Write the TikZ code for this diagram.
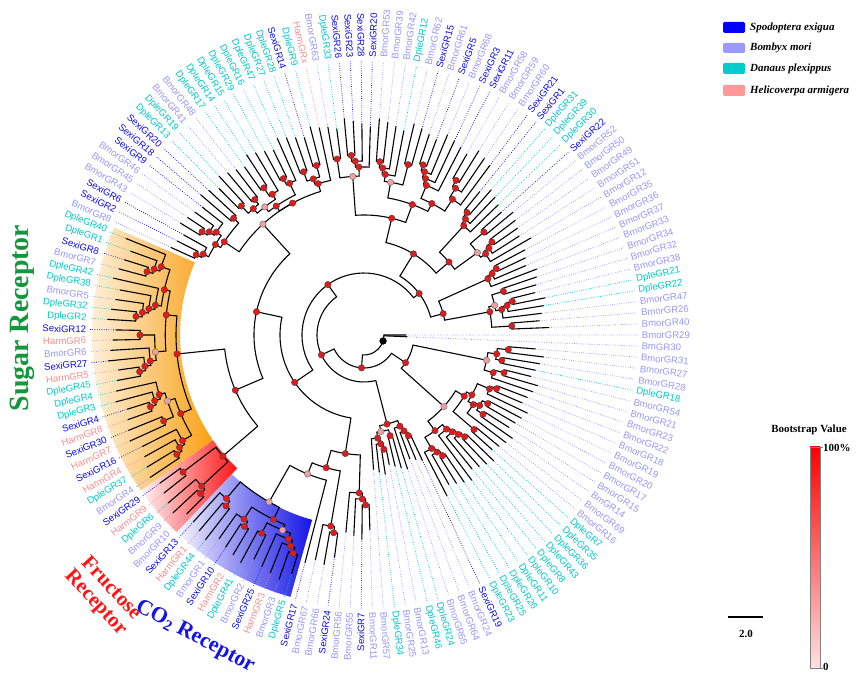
\documentclass[tikz,border=0pt]{standalone}
\usepackage{fontspec}
\setmainfont{Liberation Serif}
\newfontfamily\lsf{Liberation Sans}
\pgfdeclarelayer{fg}
\pgfsetlayers{main,fg}
\definecolor{spS}{RGB}{10,10,230}
\definecolor{spB}{RGB}{150,150,250}
\definecolor{spD}{RGB}{0,200,200}
\definecolor{spH}{RGB}{250,140,140}
\definecolor{lgS}{RGB}{0,0,255}
\definecolor{lgB}{RGB}{153,153,255}
\definecolor{lgD}{RGB}{0,204,204}
\definecolor{lgH}{RGB}{255,153,153}
\definecolor{sugarg}{RGB}{20,150,60}
\definecolor{fruc}{RGB}{255,20,20}
\definecolor{coblue}{RGB}{20,20,230}
\definecolor{orng}{RGB}{250,160,20}
\definecolor{dred}{RGB}{230,25,25}
\definecolor{dpink}{RGB}{240,160,160}
\tikzset{
  br/.style={line width=1.1, black, line cap=round},
  dl/.style={line width=0.8, dash pattern=on 0.7 off 1.6},
  dotred/.style={fill=dred, draw=black!75, line width=0.4},
  dotpink/.style={fill=dpink, draw=black!60, line width=0.4},
  lbl/.style={font=\lsf\fontsize{9.6}{10}\selectfont, inner sep=0.3pt},
  lgt/.style={font=\bfseries\itshape\fontsize{11}{13}\selectfont, inner sep=1pt},
  bst/.style={font=\bfseries\fontsize{11}{13}\selectfont, inner sep=1pt},
  ttl/.style={font=\bfseries\fontsize{#1}{#1}\selectfont, align=center, inner sep=1pt},
}
% node with explicit positions (index units): pA, pB, pM, radius, parent radius
\newcommand\ndx[5]{%
  \pgfmathsetmacro\ma{134.7-2.32258*(#3)}%
  \pgfmathsetmacro\mA{134.7-2.32258*(#1)}%
  \pgfmathsetmacro\mB{134.7-2.32258*(#2)}%
  \draw[br] (\ma:#5) -- (\ma:#4);
  \draw[br] (\mA:#4) arc[start angle=\mA, end angle=\mB, radius=#4];
  \pgfmathtruncatemacro\pk{mod(round(#1*7+#2*11),6)==0}%
  \begin{pgfonlayer}{fg}
    \ifnum\pk=1 \filldraw[dotpink] (\ma:#4) circle[radius=3.2];\else\filldraw[dotred] (\ma:#4) circle[radius=3.2];\fi
  \end{pgfonlayer}%
}
% internal node on a leaf range: a, split s, b, radius r, parent radius rp
\newcommand\nd[5]{%
  \pgfmathsetmacro\pM{(#1+#3)/2}%
  \pgfmathsetmacro\pA{(#1+#2)/2}%
  \pgfmathsetmacro\pB{(#2+1+#3)/2}%
  \ndx{\pA}{\pB}{\pM}{#4}{#5}%
}
% recursive subtree: a, b, node radius, parent radius, tip radius
\newcommand\sub[5]{%
 \begingroup
 \ifnum#1=#2\relax
   \pgfmathsetmacro\la{134.7-2.32258*#1}%
   \pgfmathsetmacro\lt{#5+3*mod(#1*7,4)}%
   \edef\lc{sp\csname lc#1\endcsname}%
   \draw[br] (\la:#4) -- (\la:\lt);
   \draw[dl,\lc] (\la:\lt) -- (\la:274);
 \else
   \pgfmathtruncatemacro\hh{mod(#1*31+#2*17,5)}%
   \pgfmathtruncatemacro\sSplit{#1+floor((#2-#1)*(0.25+0.125*\hh)+0.5)}%
   \ifnum\sSplit<#1\relax\edef\sSplit{#1}\fi
   \ifnum\sSplit>\numexpr#2-1\relax\edef\sSplit{\the\numexpr#2-1\relax}\fi
   \nd{#1}{\sSplit}{#2}{#3}{#4}%
   \edef\sB{\the\numexpr\sSplit+1\relax}%
   \pgfmathsetmacro\rA{max(#5-16-\kk*ln(\sSplit-#1+1)/ln(2)-2*mod(#1*3,4),#3+6)}%
   \pgfmathsetmacro\rB{max(#5-16-\kk*ln(#2-\sSplit)/ln(2)-2*mod(#2*5,4),#3+6)}%
   \edef\mynext{\noexpand\sub{#1}{\sSplit}{\rA}{#3}{#5}\noexpand\sub{\sB}{#2}{\rB}{#3}{#5}}%
   \mynext
 \fi
 \endgroup}
\def\kk{13}
\begin{document}
\begin{tikzpicture}[x=1bp,y=1bp]
\useasboundingbox (-364,-346) rectangle (492,335);
% clade wedges
\pgfmathsetmacro\wgA{134.7-2.32258*103.5}
\pgfmathsetmacro\wgB{134.7-2.32258*115.5}
\pgfmathsetmacro\wgC{134.7-2.32258*120.5}
\pgfmathsetmacro\wgD{134.7-2.32258*145.5}
\shade[left color=coblue!3, right color=coblue] (\wgA:192) arc[start angle=\wgA,end angle=\wgB,radius=192] -- (\wgB:272) arc[start angle=\wgB,end angle=\wgA,radius=272] -- cycle;
\shade[left color=fruc!4, right color=fruc] (\wgB:184) arc[start angle=\wgB,end angle=\wgC,radius=184] -- (\wgC:272) arc[start angle=\wgC,end angle=\wgB,radius=272] -- cycle;
\shade[left color=orng!6, right color=orng] (\wgC:184) arc[start angle=\wgC,end angle=\wgD,radius=184] -- (\wgD:272) arc[start angle=\wgD,end angle=\wgC,radius=272] -- cycle;
% leaf labels
\foreach [count=\n from 0] \nm/\cc in {DpleGR13/D,DpleGR19/D,BmorGR41/B,BmorGR48/B,DpleGR17/D,DpleGR14/D,DpleGR15/D,DpleGR29/D,DpleGR16/D,DpleGR47/D,DpleGR27/D,DpleGR28/D,SexiGR14/S,DpleGR9/D,HarmGRx/H,BmorGR63/B,DpleGR33/D,SexiGR26/S,SexiGR23/S,SexiGR28/S,SexiGR20/S,BmorGR53/B,BmorGR39/B,BmorGR42/B,DpleGR12/D,BmorGR62/B,SexiGR15/S,BmorGR61/B,SexiGR5/S,BmorGR68/B,SexiGR3/S,SexiGR11/S,BmorGR58/B,BmorGR59/B,BmorGR60/B,SexiGR21/S,SexiGR1/S,DpleGR31/D,DpleGR39/D,DpleGR30/D,SexiGR22/S,BmorGR52/B,BmorGR50/B,BmorGR49/B,BmorGR51/B,BmorGR12/B,BmorGR35/B,BmorGR36/B,BmorGR37/B,BmorGR33/B,BmorGR34/B,BmorGR32/B,BmorGR38/B,DpleGR21/D,DpleGR22/D,BmorGR47/B,BmorGR26/B,BmorGR40/B,BmorGR29/B,BmGR30/B,BmorGR31/B,BmorGR27/B,BmorGR28/B,DpleGR18/D,BmorGR54/B,BmorGR21/B,BmorGR23/B,BmorGR22/B,BmorGR18/B,BmorGR19/B,BmorGR20/B,BmorGR17/B,BmorGR15/B,BmGR14/B,BmorGR69/B,BmorGR16/B,DpleGR7/D,DpleGR35/D,DpleGR36/D,DpleGR43/D,DpleGR8/D,DpleGR10/D,DpleGR11/D,DpleGR26/D,DpleGR25/D,DpleGR23/D,SexiGR19/S,BmorGR24/B,BmorGR64/B,BmorGR65/B,DpleGR24/D,DpleGR46/D,BmorGR13/B,BmorGR25/B,DpleGR34/D,BmorGR57/B,BmorGR11/B,SexiGR7/S,BmorGR55/B,BmorGR56/B,SexiGR24/S,BmorGR66/B,BmorGR67/B,SexiGR17/S,DpleGR5/D,BmorGR3/B,HarmGR3/H,SexiGR25/S,BmorGR2/B,DpleGR41/D,HarmGR2/H,SexiGR10/S,BmorGR1/B,DpleGR44/D,HarmGR1/H,SexiGR13/S,BmorGR10/B,BmorGR9/B,DpleGR6/D,HarmGR9/H,SexiGR29/S,BmorGR4/B,DpleGR37/D,HarmGR4/H,SexiGR16/S,HarmGR7/H,SexiGR30/S,HarmGR8/H,SexiGR4/S,DpleGR3/D,DpleGR4/D,DpleGR45/D,HarmGR5/H,SexiGR27/S,BmorGR6/B,HarmGR6/H,SexiGR12/S,DpleGR2/D,DpleGR32/D,BmorGR5/B,DpleGR38/D,DpleGR42/D,BmorGR7/B,SexiGR8/S,DpleGR1/D,DpleGR40/D,BmorGR8/B,SexiGR2/S,SexiGR6/S,BmorGR43/B,BmorGR45/B,BmorGR46/B,SexiGR9/S,SexiGR18/S,SexiGR20/S}{
  \expandafter\xdef\csname lc\n\endcsname{\cc}
  \pgfmathsetmacro\la{134.7-2.32258*\n}
  \pgfmathtruncatemacro\rt{cos(\la)>-0.00001}
  \ifnum\rt=1
    \node[lbl,text=sp\cc,anchor=west,rotate=\la] (L\n) at (\la:277.5) {\nm};
  \else
    \pgfmathsetmacro\lb{\la+180}
    \node[lbl,text=sp\cc,anchor=east,rotate=\lb] (L\n) at (\la:277.5) {\nm};
  \fi
}
% ---- tree: clade subtrees ----
\def\kk{11}\sub{96}{99}{158}{120}{195}
\def\kk{10}\sub{100}{102}{194}{138}{224}
\sub{103}{103}{0}{150}{232}
\def\kk{9}\sub{104}{115}{192}{150}{250}
\def\kk{9}\sub{116}{120}{186}{140}{252}
\def\kk{8}\sub{121}{145}{188}{140}{248}
\def\kk{11}\sub{146}{154}{168}{150}{206}
\def\kk{12}\sub{0}{14}{150}{150}{206}
\def\kk{12}\sub{15}{35}{120}{95}{208}
\def\kk{10}\sub{36}{45}{112}{95}{184}
\def\kk{10}\sub{46}{57}{82}{69}{176}
\def\kk{11}\sub{60}{85}{50}{33}{172}
\def\kk{10}\sub{86}{95}{92}{47}{132}
% ---- tree: backbone ladder (positions in index units, wrapped past 154) ----
\ndx{118}{133}{125.5}{140}{110}      % sugar + fructose
\ndx{103}{109.5}{106.25}{150}{138}   % SexiGR17 + CO2
\ndx{101}{106.25}{103.6}{138}{120}
\ndx{97.5}{103.6}{100.6}{120}{84}
\ndx{150}{162}{156}{150}{110}        % top-left clades
\ndx{125.5}{156}{140.75}{110}{84}
\ndx{100.6}{140.75}{120.7}{84}{62}
\ndx{180}{195.5}{187.75}{95}{69}
\ndx{187.75}{206.5}{197.1}{69}{62}
\ndx{120.7}{197.1}{158.9}{62}{47}
\ndx{90.5}{158.9}{124.7}{47}{33}
\ndx{72.5}{124.7}{98.6}{33}{20}
\ndx{58}{98.6}{65.5}{20}{20}         % root
\sub{58}{58}{0}{20}{36}
\sub{59}{59}{0}{20}{40}
\pgfmathsetmacro\tmp{134.7-2.32258*65.5}
\begin{pgfonlayer}{fg}
\fill[black] (\tmp:20) circle[radius=3.6];
\end{pgfonlayer}
% bootstrap scale bar
\shade[top color=red, bottom color=red!12] (446,-112) rectangle (456,-333);
\draw[gray,line width=0.5] (446,-112) rectangle (456,-333);
% legend and titles in image coordinates
\begin{scope}[shift={(-364,335)},yscale=-1]
  \fill[lgS, rounded corners=1.5] (723,22) rectangle (745,33);
  \fill[lgB, rounded corners=1.5] (723,43) rectangle (745,53);
  \fill[lgD, rounded corners=1.5] (723,63) rectangle (745,74);
  \fill[lgH, rounded corners=1.5] (723,85) rectangle (745,96);
  \node[lgt,anchor=west] (k1) at (749,27.5) {Spodoptera exigua};
  \node[lgt,anchor=west] (k2) at (749,48) {Bombyx mori};
  \node[lgt,anchor=west] (k3) at (749,68.5) {Danaus plexippus};
  \node[lgt,anchor=west] (k4) at (749,90.5) {Helicoverpa armigera};
  \node[bst] (bv) at (809,430) {Bootstrap Value};
  \draw[gray,line width=0.5] (820,447) -- (823,447) (820,668) -- (823,668);
  \node[bst,anchor=west] (b100) at (822,448) {100\%};
  \node[bst,anchor=west] (b0) at (822,667) {0};
  \draw[line width=1.2] (728,617) -- (763,617);
  \node[bst] (sc) at (746,634) {2.0};
  \node[ttl=28,text=sugarg,rotate=90] (sug) at (22,318) {Sugar Receptor};
  \node[ttl=21,text=fruc,rotate=-47] (fru) at (103,596) {Fructose\\Receptor};
  \node[ttl=22,text=coblue,rotate=-28] (co2) at (195,637) {CO\textsubscript{2} Receptor};
\end{scope}
\end{tikzpicture}
\end{document}
